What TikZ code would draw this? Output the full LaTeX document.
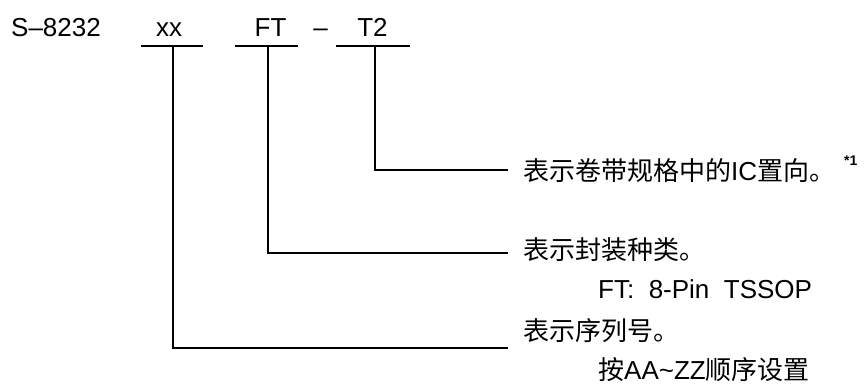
\documentclass[tikz,border=0pt]{standalone}
\usepackage{fontspec}
\setmainfont{Liberation Sans}
\newfontfamily\cjk{Noto Sans CJK SC}
\begin{document}
\begin{tikzpicture}[x=1pt,y=1pt,
  code/.style={inner sep=0pt,anchor=base,font=\fontsize{26}{30}\selectfont},
  lbl/.style={inner sep=0pt,anchor=base west,font=\fontsize{26}{30}\selectfont},
  ln/.style={line width=1.8pt,line cap=butt}]
\useasboundingbox (0,0) rectangle (864,-387);
% part number
\node[inner sep=0pt,anchor=base west,font=\fontsize{26}{30}\selectfont] (pn) at (11,-37) {S–8232};
\node[code] (xx) at (169,-37) {xx};
\node[code] (ft) at (270.5,-37) {FT};
\node[code] (dash) at (320.5,-37) {–};
\node[code] (t2) at (372.5,-37) {T2};
% underlines
\coordinate (xxL) at (141,-46); \coordinate (xxR) at (203,-46);
\coordinate (ftL) at (235,-46); \coordinate (ftR) at (298,-46);
\coordinate (t2L) at (336,-46); \coordinate (t2R) at (410,-46);
\draw[ln] (xxL) -- (xxR);
\draw[ln] (ftL) -- (ftR);
\draw[ln] (t2L) -- (t2R);
\coordinate (xxT) at (173,-46);
\coordinate (ftT) at (268,-46);
\coordinate (t2T) at (375,-46);
% labels
\node[lbl] (l1) at (523,-181) {{\cjk 表示卷带规格中的}IC{\cjk 置向。}};
\node[inner sep=0pt,anchor=base west,font=\fontsize{14}{16}\selectfont\bfseries] (n1) at (844,-166) {*1};
\node[lbl] (l2) at (523,-260) {\cjk 表示封装种类。};
\node[lbl] (l2b) at (598,-298) {FT:\ \ 8-Pin\ \ TSSOP};
\node[lbl] (l3) at (523,-340) {\cjk 表示序列号。};
\node[lbl] (l3b) at (598,-379) {{\cjk 按}AA\textasciitilde ZZ{\cjk 顺序设置}};
% connector ends
\coordinate (e1) at (508,-170);
\coordinate (e2) at (508,-253);
\coordinate (e3) at (508,-348);
\draw[ln] (t2T) |- (e1);
\draw[ln] (ftT) |- (e2);
\draw[ln] (xxT) |- (e3);
\end{tikzpicture}
\end{document}
